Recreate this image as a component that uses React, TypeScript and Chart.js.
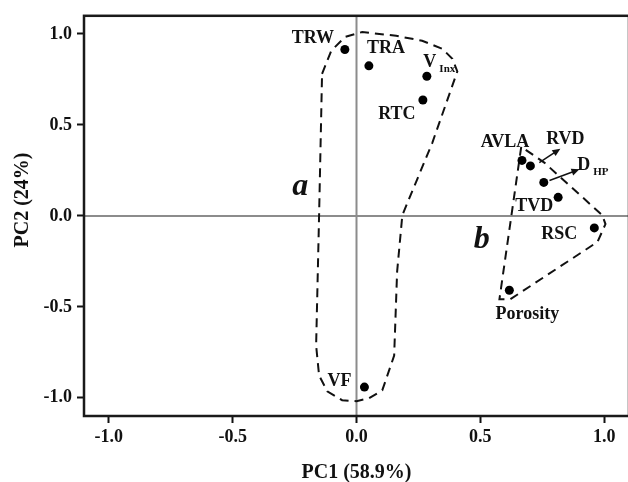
import { useEffect, useRef } from 'react';
import { Chart, registerables } from 'chart.js';

Chart.register(...registerables);

const FONT = '"Liberation Serif", "Times New Roman", serif';

// Variables (loadings on PC1 / PC2)
const categories = ['TRW', 'TRA', 'V', 'RTC', 'AVLA', 'RVD', 'D', 'TVD', 'RSC', 'Porosity', 'VF'];
const subscripts = ['', '', 'Inx', '', '', '', 'HP', '', '', '', ''];
const pc1 = [-0.047, 0.05, 0.284, 0.268, 0.668, 0.702, 0.756, 0.814, 0.96, 0.617, 0.032];
const pc2 = [0.915, 0.825, 0.768, 0.637, 0.305, 0.275, 0.184, 0.102, -0.066, -0.409, -0.941];

// label offsets from point (px) – styling
const labelDx = [-32, 17, 3, -26, -17, 35, 40, -24, -35, 18, -25];
const labelDy = [-12, -19, -15, 13, -19, -28, -18, 8, 5, 23, -7];

// Group a outline
const groupAx = [-0.139, -0.102, -0.046, 0.023, 0.16, 0.265, 0.346, 0.387, 0.407, 0.306, 0.185, 0.164, 0.152, 0.104, 0.051, 0, -0.058, -0.118, -0.151, -0.163, -0.151, -0.139];
const groupAy = [0.781, 0.908, 0.984, 1.011, 0.99, 0.963, 0.919, 0.864, 0.794, 0.402, 0.004, -0.306, -0.768, -0.959, -1.002, -1.019, -1.013, -0.964, -0.877, -0.713, 0.004, 0.781];

// Group b outline
const groupBx = [0.665, 0.577, 0.621, 0.973, 1.005, 0.992, 0.758, 0.665];
const groupBy = [0.38, -0.458, -0.458, -0.143, -0.045, 0.004, 0.293, 0.38];

// Arrows (RVD, DHP)
const arrowX0 = [0.738, 0.779];
const arrowY0 = [0.293, 0.195];
const arrowX1 = [0.823, 0.9];
const arrowY1 = [0.369, 0.256];

// Group letters
const groupLetters = ['a', 'b'];
const letterX = [-0.227, 0.506];
const letterY = [0.113, -0.175];

const xTicks = [-1.0, -0.5, 0.0, 0.5, 1.0];
const yTicks = [-1.0, -0.5, 0.0, 0.5, 1.0];

const xTitle = 'PC1 (58.9%)';
const yTitle = 'PC2 (24%)';

const overlay = {
  id: 'overlay',
  beforeDatasetsDraw(chart: any) {
    const { ctx, chartArea, scales } = chart;
    const x0 = scales.x.getPixelForValue(0);
    const y0 = scales.y.getPixelForValue(0);
    ctx.save();
    ctx.strokeStyle = '#8c8c8c';
    ctx.lineWidth = 2;
    ctx.beginPath();
    ctx.moveTo(x0, chartArea.top);
    ctx.lineTo(x0, chartArea.bottom);
    ctx.moveTo(chartArea.left, y0);
    ctx.lineTo(chartArea.right, y0);
    ctx.stroke();
    ctx.restore();
  },
  afterDraw(chart: any) {
    const { ctx, chartArea, scales } = chart;
    const xs = scales.x;
    const ys = scales.y;
    ctx.save();
    // frame
    ctx.strokeStyle = '#1a1a1a';
    ctx.lineWidth = 2.5;
    ctx.strokeRect(chartArea.left, chartArea.top, chartArea.right - chartArea.left, chartArea.bottom - chartArea.top);

    // arrows
    ctx.strokeStyle = '#111';
    ctx.fillStyle = '#111';
    ctx.lineWidth = 1.5;
    for (let i = 0; i < arrowX0.length; i++) {
      const ax = xs.getPixelForValue(arrowX0[i]);
      const ay = ys.getPixelForValue(arrowY0[i]);
      const bx = xs.getPixelForValue(arrowX1[i]);
      const by = ys.getPixelForValue(arrowY1[i]);
      const ang = Math.atan2(by - ay, bx - ax);
      ctx.beginPath();
      ctx.moveTo(ax, ay);
      ctx.lineTo(bx - 4 * Math.cos(ang), by - 4 * Math.sin(ang));
      ctx.stroke();
      ctx.beginPath();
      ctx.moveTo(bx, by);
      ctx.lineTo(bx - 8 * Math.cos(ang) + 3.5 * Math.sin(ang), by - 8 * Math.sin(ang) - 3.5 * Math.cos(ang));
      ctx.lineTo(bx - 8 * Math.cos(ang) - 3.5 * Math.sin(ang), by - 8 * Math.sin(ang) + 3.5 * Math.cos(ang));
      ctx.closePath();
      ctx.fill();
    }

    // point labels
    ctx.fillStyle = '#111';
    ctx.textBaseline = 'alphabetic';
    for (let i = 0; i < categories.length; i++) {
      const px = xs.getPixelForValue(pc1[i]) + labelDx[i];
      const py = ys.getPixelForValue(pc2[i]) + labelDy[i] + 6;
      ctx.font = `bold 18px ${FONT}`;
      ctx.textAlign = 'center';
      ctx.fillText(categories[i], px, py);
      if (subscripts[i]) {
        const w = ctx.measureText(categories[i]).width;
        ctx.font = `bold 11px ${FONT}`;
        ctx.textAlign = 'left';
        ctx.fillText(subscripts[i], px + w / 2 + 3, py + 5);
      }
    }

    // group letters
    ctx.font = `italic bold 32px ${FONT}`;
    ctx.textAlign = 'center';
    for (let i = 0; i < groupLetters.length; i++) {
      ctx.fillText(groupLetters[i], xs.getPixelForValue(letterX[i]), ys.getPixelForValue(letterY[i]));
    }

    // axis titles
    ctx.font = `bold 20px ${FONT}`;
    ctx.textAlign = 'center';
    ctx.fillText(xTitle, (chartArea.left + chartArea.right) / 2, 478);
    ctx.save();
    ctx.translate(28, 200);
    ctx.rotate(-Math.PI / 2);
    ctx.fillText(yTitle, 0, 0);
    ctx.restore();
    ctx.restore();
  },
};

export default function App() {
  const ref = useRef<HTMLCanvasElement | null>(null);
  useEffect(() => {
    if (!ref.current) return;
    const tickFont = { family: FONT, size: 18, weight: 'bold' as const };
    const chart = new Chart(ref.current, {
      type: 'scatter',
      data: {
        datasets: [
          {
            label: 'variables',
            data: pc1.map((x, i) => ({ x, y: pc2[i] })),
            pointRadius: 4.5,
            pointHoverRadius: 4.5,
            backgroundColor: '#000',
            borderColor: '#000',
            borderWidth: 0,
            showLine: false,
          },
          {
            label: 'a',
            data: groupAx.map((x, i) => ({ x, y: groupAy[i] })),
            showLine: true,
            pointRadius: 0,
            borderColor: '#111',
            borderWidth: 2,
            borderDash: [9, 6],
            fill: false,
            tension: 0,
          },
          {
            label: 'b',
            data: groupBx.map((x, i) => ({ x, y: groupBy[i] })),
            showLine: true,
            pointRadius: 0,
            borderColor: '#111',
            borderWidth: 2,
            borderDash: [9, 6],
            fill: false,
            tension: 0,
          },
        ],
      },
      options: {
        responsive: false,
        animation: false,
        devicePixelRatio: 1,
        layout: { padding: { left: 0, top: 11, right: 7, bottom: 0 }, autoPadding: false },
        plugins: { legend: { display: false }, tooltip: { enabled: false } },
        scales: {
          x: {
            type: 'linear',
            min: -1.1,
            max: 1.1,
            afterBuildTicks: (s: any) => {
              s.ticks = xTicks.map((v) => ({ value: v }));
            },
            afterFit: (s: any) => {
              s.height = 66;
            },
            border: { display: false },
            grid: { display: true, drawOnChartArea: false, drawTicks: true, tickLength: 7, tickWidth: 2, tickColor: '#111' },
            ticks: { color: '#111', font: tickFont, padding: 4, maxRotation: 0, callback: (v: any) => Number(v).toFixed(1) },
          },
          y: {
            type: 'linear',
            min: -1.1,
            max: 1.1,
            afterBuildTicks: (s: any) => {
              s.ticks = yTicks.map((v) => ({ value: v }));
            },
            afterFit: (s: any) => {
              s.width = 84;
            },
            border: { display: false },
            grid: { display: true, drawOnChartArea: false, drawTicks: true, tickLength: 7, tickWidth: 2, tickColor: '#111' },
            ticks: { color: '#111', font: tickFont, padding: 5, callback: (v: any) => Number(v).toFixed(1) },
          },
        },
      },
      plugins: [overlay],
    });
    return () => chart.destroy();
  }, []);
  return (
    <div style={{ position: 'fixed', left: 0, top: 0, width: 628, height: 482, overflow: 'hidden', background: '#fff' }}>
      <canvas ref={ref} width={636} height={482} style={{ width: 636, height: 482, display: 'block' }} />
    </div>
  );
}
